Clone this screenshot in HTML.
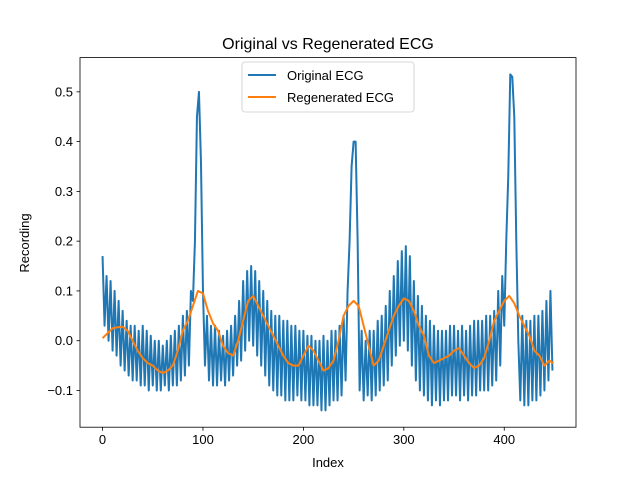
<!DOCTYPE html>
<html><head><meta charset="utf-8"><style>
body{margin:0;background:#fff;}
text{font-family:"Liberation Sans","DejaVu Sans",sans-serif;}
</style></head><body>
<svg id="c" width="640" height="480" xmlns="http://www.w3.org/2000/svg">
<rect width="640" height="480" fill="#fff"/>
<text x="328" y="49" font-size="16" text-anchor="middle">Original vs Regenerated ECG</text>
<text x="328" y="467" font-size="13" text-anchor="middle">Index</text>
<text transform="translate(29,243) rotate(-90)" font-size="13" text-anchor="middle">Recording</text>
<g id="ticks"></g>
<g id="series"></g>
<rect x="80" y="57.6" width="496" height="369.6" fill="none" stroke="#000" stroke-width="0.8"/>
<g>
<rect x="242" y="62" width="172" height="50" rx="3" fill="#fff" fill-opacity="0.8" stroke="#ccc" stroke-width="0.8"/>
<g><line x1="248" y1="75" x2="276" y2="75" stroke="#1f77b4" stroke-width="2"/><text x="287" y="80" font-size="13">Original ECG</text></g>
<g><line x1="248" y1="97" x2="276" y2="97" stroke="#ff7f0e" stroke-width="2"/><text x="287" y="102" font-size="13">Regenerated ECG</text></g>
</g>
</svg>
<script>
const origX = [0,2,4,6,8,10,12,14,16,18,20,22,24,26,28,30,32,34,36,38,40,42,44,46,48,50,52,54,56,58,60,62,64,66,68,70,72,74,76,78,80,82,84,86,88,90,92,94,96,98,100,102,104,106,108,110,112,114,116,118,120,122,124,126,128,130,132,134,136,138,140,142,144,146,148,150,152,154,156,158,160,162,164,166,168,170,172,174,176,178,180,182,184,186,188,190,192,194,196,198,200,202,204,206,208,210,212,214,216,218,220,222,224,226,228,230,232,234,236,238,240,242,244,246,248,250,252,254,256,258,260,262,264,266,268,270,272,274,276,278,280,282,284,286,288,290,292,294,296,298,300,302,304,306,308,310,312,314,316,318,320,322,324,326,328,330,332,334,336,338,340,342,344,346,348,350,352,354,356,358,360,362,364,366,368,370,372,374,376,378,380,382,384,386,388,390,392,394,396,398,400,402,404,406,408,410,412,414,416,418,420,422,424,426,428,430,432,434,436,438,440,442,444,446,448];
const origY = [0.17,0.03,0.13,0.0,0.12,-0.02,0.1,-0.03,0.08,-0.05,0.06,-0.06,0.04,-0.07,0.03,-0.08,0.03,-0.08,0.02,-0.09,0.03,-0.09,0.02,-0.1,0.01,-0.09,0.0,-0.1,0.0,-0.1,-0.01,-0.09,0.0,-0.1,0.01,-0.09,0.02,-0.09,0.03,-0.08,0.05,-0.07,0.06,-0.05,0.1,0.08,0.2,0.45,0.5,0.36,0.1,-0.05,0.05,-0.08,0.03,-0.09,0.03,-0.09,0.02,-0.08,0.01,-0.09,0.02,-0.08,0.03,-0.07,0.05,-0.05,0.08,-0.04,0.12,-0.02,0.14,0.0,0.15,-0.01,0.14,-0.03,0.12,-0.05,0.1,-0.07,0.08,-0.09,0.06,-0.1,0.05,-0.11,0.05,-0.11,0.04,-0.12,0.04,-0.12,0.03,-0.12,0.03,-0.11,0.02,-0.12,0.02,-0.12,0.01,-0.13,0.01,-0.13,0.0,-0.13,0.0,-0.14,0.01,-0.14,0.0,-0.13,0.02,-0.12,0.02,-0.12,0.03,-0.11,0.05,-0.08,0.1,0.2,0.35,0.4,0.4,0.2,-0.1,0.02,-0.12,0.0,-0.11,0.02,-0.12,0.02,-0.11,0.04,-0.1,0.05,-0.09,0.07,-0.08,0.1,-0.05,0.13,-0.03,0.16,-0.01,0.18,0.0,0.19,-0.02,0.17,-0.05,0.12,-0.08,0.09,-0.1,0.07,-0.11,0.05,-0.12,0.04,-0.13,0.03,-0.12,0.02,-0.13,0.02,-0.12,0.02,-0.12,0.03,-0.11,0.03,-0.11,0.02,-0.12,0.03,-0.11,0.02,-0.12,0.03,-0.11,0.04,-0.11,0.04,-0.1,0.04,-0.1,0.05,-0.1,0.05,-0.09,0.06,-0.08,0.1,-0.05,0.13,0.03,0.2,0.33,0.535,0.53,0.45,0.2,0.0,-0.12,0.05,-0.13,0.04,-0.13,0.04,-0.12,0.05,-0.12,0.05,-0.11,0.06,-0.1,0.08,-0.08,0.1,-0.06];
const regenX = [0,5,10,15,20,25,30,35,40,45,50,55,60,65,70,75,80,85,90,95,100,105,110,115,120,125,130,135,140,145,150,155,160,165,170,175,180,185,190,195,200,205,210,215,220,225,230,235,240,245,250,255,260,265,270,275,280,285,290,295,300,305,310,315,320,325,330,335,340,345,350,355,360,365,370,375,380,385,390,395,400,405,410,415,420,425,430,435,440,445,449];
const regenY = [0.005,0.015,0.025,0.027,0.028,0.02,0.0,-0.02,-0.035,-0.045,-0.05,-0.06,-0.065,-0.06,-0.05,-0.02,0.02,0.04,0.07,0.1,0.095,0.06,0.035,0.02,-0.01,-0.025,-0.03,0.0,0.04,0.08,0.09,0.07,0.05,0.03,0.01,-0.01,-0.03,-0.045,-0.05,-0.05,-0.03,-0.01,-0.02,-0.04,-0.06,-0.055,-0.04,0.0,0.05,0.07,0.08,0.07,0.03,-0.01,-0.05,-0.04,-0.01,0.02,0.05,0.07,0.085,0.08,0.06,0.03,0.01,-0.03,-0.045,-0.04,-0.035,-0.03,-0.02,-0.015,-0.03,-0.045,-0.055,-0.05,-0.035,0.0,0.04,0.06,0.08,0.09,0.075,0.05,0.03,0.01,-0.02,-0.03,-0.05,-0.04,-0.045];
const xTicks = [0,100,200,300,400];
const yTicks = [-0.1,0.0,0.1,0.2,0.3,0.4,0.5];

const L=80,R=576,T=57.6,B=427.2, xmin=-22.45,xmax=471.45,ymin=-0.1738,ymax=0.5688;
const sx=v=>L+(v-xmin)/(xmax-xmin)*(R-L);
const sy=v=>B-(v-ymin)/(ymax-ymin)*(B-T);
const NS='http://www.w3.org/2000/svg';
const tg=document.getElementById('ticks');
xTicks.forEach(v=>{
  const l=document.createElementNS(NS,'line');
  l.setAttribute('x1',sx(v));l.setAttribute('x2',sx(v));l.setAttribute('y1',B);l.setAttribute('y2',B+3.5);l.setAttribute('stroke','#000');l.setAttribute('stroke-width','0.8');
  
  
  tg.appendChild(l);
  const t=document.createElementNS(NS,'text');
  t.setAttribute('x',sx(v));t.setAttribute('y',B+17);t.setAttribute('font-size','13');t.setAttribute('text-anchor','middle');t.textContent=v;
  
  
  tg.appendChild(t);
});
yTicks.forEach(v=>{
  const l=document.createElementNS(NS,'line');
  l.setAttribute('x1',L-3.5);l.setAttribute('x2',L);l.setAttribute('y1',sy(v));l.setAttribute('y2',sy(v));l.setAttribute('stroke','#000');l.setAttribute('stroke-width','0.8');
  
  
  tg.appendChild(l);
  const t=document.createElementNS(NS,'text');
  t.setAttribute('x',L-7);t.setAttribute('y',sy(v)+4.5);t.setAttribute('font-size','13');t.setAttribute('text-anchor','end');
  t.textContent=(v<0?'\u2212':'')+Math.abs(v).toFixed(1);
  
  
  tg.appendChild(t);
});
const sg=document.getElementById('series');
function line(xs,ys,color,name){
  const p=document.createElementNS(NS,'polyline');
  p.setAttribute('points',xs.map((x,i)=>sx(x).toFixed(2)+','+sy(ys[i]).toFixed(2)).join(' '));
  p.setAttribute('fill','none');p.setAttribute('stroke',color);p.setAttribute('stroke-width','2');p.setAttribute('stroke-linejoin','round');
  
  
  sg.appendChild(p);
}
line(origX,origY,'#1f77b4','original-ecg-line');
line(regenX,regenY,'#ff7f0e','regenerated-ecg-line');
</script>
</body></html>
